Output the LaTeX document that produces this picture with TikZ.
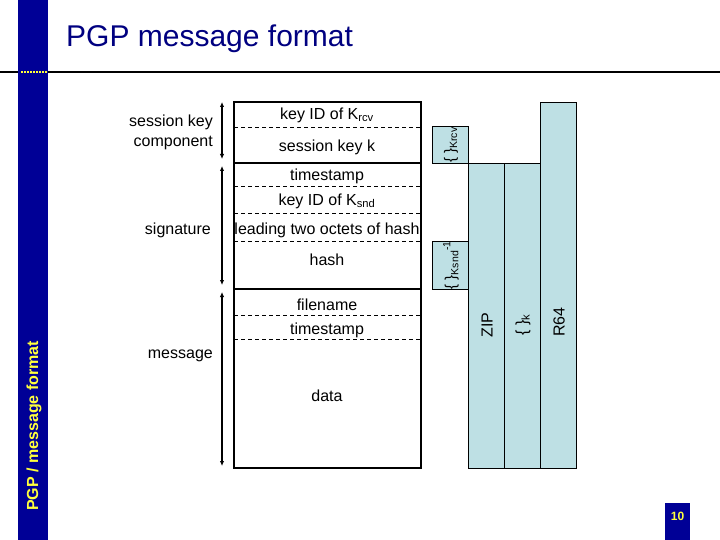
\documentclass[tikz,border=0pt]{standalone}
\usepackage{fontspec}
\setmainfont{Liberation Sans}
\usetikzlibrary{arrows.meta}

\definecolor{slideblue}{RGB}{0,0,150}
\definecolor{titleblue}{RGB}{0,0,128}
\definecolor{slideyellow}{RGB}{255,255,60}
\definecolor{layercyan}{RGB}{190,224,228}

\begin{document}
\begin{tikzpicture}[x=1pt, y=-1pt, >={Latex[length=5pt,width=4.5pt]},
  every node/.style={font=\fontsize{16}{20}\selectfont, inner sep=0pt},
  field/.style={anchor=center},
  side/.style={anchor=east, align=right},
  layer/.style={draw, line width=0.8pt, fill=layercyan},
  layertext/.style={rotate=90, anchor=center}]
\useasboundingbox (0,0) rectangle (720,540);

% Slide frame
\draw[line width=2.5pt] (0,72) -- (720,72);
\fill[slideblue] (18,0) rectangle (48,540);
\draw[slideyellow, line width=2pt, dash pattern=on 1.5pt off 1.5pt] (21,72) -- (47,72);
\node (title) [anchor=base west, text=titleblue, font=\fontsize{30}{36}\selectfont] at (66,47) {PGP message format};
\node (sidetitle) [rotate=90, anchor=center, text=slideyellow, font=\fontsize{16}{20}\selectfont\bfseries] at (34,426) {PGP / message format};
\fill[slideblue] (665,503) rectangle (690,540);
\node (page) [text=slideyellow, font=\fontsize{12}{14}\selectfont\bfseries] at (677.5,516) {10};

% Message box
\foreach \y in {127,186,213,241,315,339}
  \draw[line width=0.8pt, dash pattern=on 4pt off 3pt] (234,\y) -- (421,\y);
\draw[line width=2.5pt] (234,102) rectangle (421,468);
\draw[line width=2.5pt] (234,163) -- (421,163);
\draw[line width=2.5pt] (234,289) -- (421,289);

% Nodes
\node (kidrcv) [field] at (327,115) {key ID of K\textsubscript{rcv}};
\node (sesskey) [field] at (327,147) {session key k};
\node (sigtime) [field] at (327,176) {timestamp};
\node (kidsnd) [field] at (327,201) {key ID of K\textsubscript{snd}};
\node (octets) [field] at (327,230) {leading two octets of hash};
\node (hash) [field] at (327,260) {hash};
\node (fname) [field] at (327,305) {filename};
\node (msgtime) [field] at (327,330) {timestamp};
\node (data) [field] at (327,396) {data};

\node (sklabel) [side] at (213,132) {session key\\component};
\node (siglabel) [side] at (211,230) {signature};
\node (msglabel) [side] at (213,356) {message};

% Layers
\draw[layer] (432,126) rectangle (468,163);
\draw[layer] (432,241) rectangle (468,289);
\draw[layer] (468,163) rectangle (504,468);
\draw[layer] (504,163) rectangle (540,468);
\draw[layer] (540,102) rectangle (576,468);
\node (encrcv) [layertext, font=\fontsize{15}{17}\selectfont] at (451,145) {\{ \}\textsubscript{Krcv}};
\node (encsnd) [layertext, font=\fontsize{15}{17}\selectfont] at (451,265) {\{ \}\textsubscript{Ksnd}\textsuperscript{-1}};
\node (zip) [layertext] at (487,325) {ZIP};
\node (enck) [layertext] at (523,325) {\{ \}\textsubscript{k}};
\node (rsf) [layertext] at (559,322) {R64};

% Arrows
\coordinate (sktop) at (222,102);
\coordinate (skbot) at (222,159);
\coordinate (sigtop) at (222,166);
\coordinate (sigbot) at (222,285);
\coordinate (msgtop) at (222,292);
\coordinate (msgbot) at (222,466);
\draw[<->, line width=1.5pt] (sktop) -- (skbot);
\draw[<->, line width=1.5pt] (sigtop) -- (sigbot);
\draw[<->, line width=1.5pt] (msgtop) -- (msgbot);

\end{tikzpicture}
\end{document}
